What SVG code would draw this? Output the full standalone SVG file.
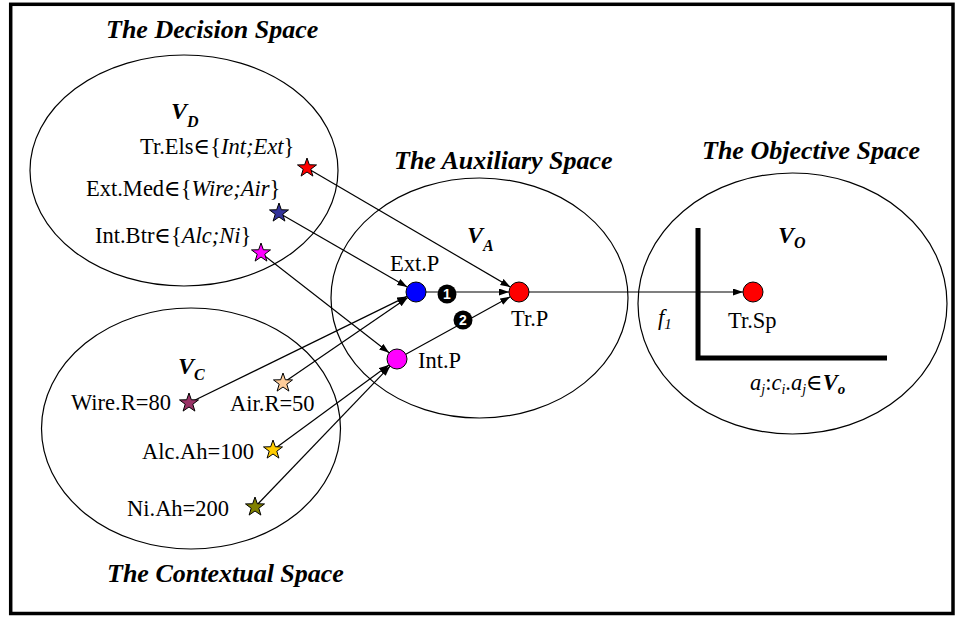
<svg xmlns="http://www.w3.org/2000/svg" xmlns:xlink="http://www.w3.org/1999/xlink" width="956" height="617" viewBox="0 0 956 617">
<style>
.title{font-family:"Liberation Serif",serif;font-size:26px;font-weight:bold;font-style:italic;fill:#000}
.lbl{font-family:"Liberation Serif","DejaVu Serif",serif;font-size:22.5px;fill:#000}
.it{font-style:italic}
.v{font-family:"Liberation Serif",serif;font-size:24px;font-weight:bold;font-style:italic}
.vs{font-size:16px}
.space{fill:none;stroke:#000;stroke-width:1.2}
.conn{fill:none;stroke:#000;stroke-width:1.2}
.pt{stroke:#000;stroke-width:1}
.num{fill:#000}
.numt{font-family:"Liberation Sans",Arial,sans-serif;font-size:14px;font-weight:bold;fill:#fff;text-anchor:middle}
</style>
<defs>
<marker id="arr" markerUnits="userSpaceOnUse" markerWidth="11" markerHeight="8" refX="10" refY="3.5" orient="auto">
<path d="M0,0 L10,3.5 L0,7 Z" fill="#000"/>
</marker>
<path id="star" d="M0,-10 L2.35,-3.24 L9.51,-3.09 L3.8,1.24 L5.88,8.09 L0,4 L-5.88,8.09 L-3.8,1.24 L-9.51,-3.09 L-2.35,-3.24 Z" stroke="#000" stroke-width="1"/>
</defs>
<rect width="956" height="617" fill="#fff"/>
<rect x="10.7" y="4.3" width="942.3" height="609.2" fill="none" stroke="#000" stroke-width="3.5"/>

<g id="decision-space">
<ellipse class="space" cx="184" cy="170.5" rx="154" ry="115.5"/>
<text class="title" x="106" y="38">The Decision Space</text>
<text class="v" x="171" y="119">V<tspan class="vs" dy="8">D</tspan></text>
</g>
<g id="contextual-space">
<ellipse class="space" cx="191" cy="428.5" rx="149.5" ry="120.5"/>
<text class="title" x="107" y="582">The Contextual Space</text>
<text class="v" x="178" y="374">V<tspan class="vs" dy="6">C</tspan></text>
</g>
<g id="auxiliary-space">
<ellipse class="space" cx="479.5" cy="298" rx="148.5" ry="120"/>
<text class="title" x="394" y="169">The Auxiliary Space</text>
<text class="v" x="467" y="243">V<tspan class="vs" dy="8">A</tspan></text>
</g>
<g id="objective-space">
<ellipse class="space" cx="792.5" cy="303.5" rx="154.5" ry="130.5"/>
<text class="title" x="702" y="159">The Objective Space</text>
<text class="v" x="778" y="243">V<tspan class="vs" dy="5">O</tspan></text>
<path d="M698,228 L698,358 L887,358" fill="none" stroke="#000" stroke-width="5"/>
<text class="lbl" x="750" y="390"><tspan class="it">a</tspan><tspan class="it" font-size="14" dy="4">j</tspan><tspan dy="-4">:</tspan><tspan class="it">c</tspan><tspan class="it" font-size="14" dy="4">i</tspan><tspan dy="-4">.</tspan><tspan class="it">a</tspan><tspan class="it" font-size="14" dy="4">j</tspan><tspan dy="-4">∈</tspan><tspan font-weight="bold" font-style="italic">V</tspan><tspan font-weight="bold" font-style="italic" font-size="15" dy="4">o</tspan></text>
<text class="lbl it" x="658" y="325">f<tspan font-size="15" dy="4">1</tspan></text>
</g>

<g id="connectors">
<line class="conn" x1="307" y1="168" x2="510.4" y2="287" marker-end="url(#arr)"/>
<line class="conn" x1="279" y1="213" x2="407.3" y2="287" marker-end="url(#arr)"/>
<line class="conn" x1="261" y1="253" x2="389.1" y2="352.8" marker-end="url(#arr)"/>
<line class="conn" x1="189" y1="403" x2="407" y2="296.4" marker-end="url(#arr)"/>
<line class="conn" x1="283" y1="383" x2="407.8" y2="297.6" marker-end="url(#arr)"/>
<line class="conn" x1="273" y1="450" x2="388.9" y2="364.9" marker-end="url(#arr)"/>
<line class="conn" x1="255" y1="507" x2="390.1" y2="366.2" marker-end="url(#arr)"/>
<line class="conn" x1="426" y1="292" x2="509" y2="292" marker-end="url(#arr)"/>
<line class="conn" x1="405.8" y1="354.2" x2="510.2" y2="296.8" marker-end="url(#arr)"/>
<line class="conn" x1="529" y1="292" x2="743" y2="292" marker-end="url(#arr)"/>
</g>

<g id="tr-els">
<text class="lbl" x="140" y="154">Tr.Els∈{<tspan class="it">Int;Ext</tspan>}</text>
<use xlink:href="#star" x="307" y="168" fill="#ff0000"/>
</g>
<g id="ext-med">
<text class="lbl" x="86" y="196">Ext.Med∈{<tspan class="it">Wire;Air</tspan>}</text>
<use xlink:href="#star" x="279" y="213" fill="#333399"/>
</g>
<g id="int-btr">
<text class="lbl" x="95" y="243">Int.Btr∈{<tspan class="it">Alc;Ni</tspan>}</text>
<use xlink:href="#star" x="261" y="253" fill="#ff00ff"/>
</g>
<g id="wire-r">
<text class="lbl" x="71" y="410">Wire.R=80</text>
<use xlink:href="#star" x="189" y="403" fill="#993366"/>
</g>
<g id="air-r">
<text class="lbl" x="230" y="411">Air.R=50</text>
<use xlink:href="#star" x="283" y="383" fill="#ffcc99"/>
</g>
<g id="alc-ah">
<text class="lbl" x="142" y="459">Alc.Ah=100</text>
<use xlink:href="#star" x="273" y="450" fill="#ffcc00"/>
</g>
<g id="ni-ah">
<text class="lbl" x="127" y="516">Ni.Ah=200</text>
<use xlink:href="#star" x="255" y="507" fill="#808000"/>
</g>
<g id="ext-p">
<circle class="pt" cx="416" cy="292" r="10" fill="#0000ff"/>
<text class="lbl" x="390" y="271">Ext.P</text>
</g>
<g id="int-p">
<circle class="pt" cx="397" cy="359" r="10" fill="#ff00ff"/>
<text class="lbl" x="418" y="368">Int.P</text>
</g>
<g id="tr-p">
<circle class="pt" cx="519" cy="292" r="10" fill="#ff0000"/>
<text class="lbl" x="511" y="326">Tr.P</text>
</g>
<g id="tr-sp">
<circle class="pt" cx="753" cy="292" r="10" fill="#ff0000"/>
<text class="lbl" x="728" y="328">Tr.Sp</text>
</g>
<g id="step-1">
<circle class="num" cx="447" cy="294" r="9.5"/>
<text class="numt" x="447" y="299">1</text>
</g>
<g id="step-2">
<circle class="num" cx="463" cy="320" r="9.5"/>
<text class="numt" x="463" y="325">2</text>
</g>
</svg>
